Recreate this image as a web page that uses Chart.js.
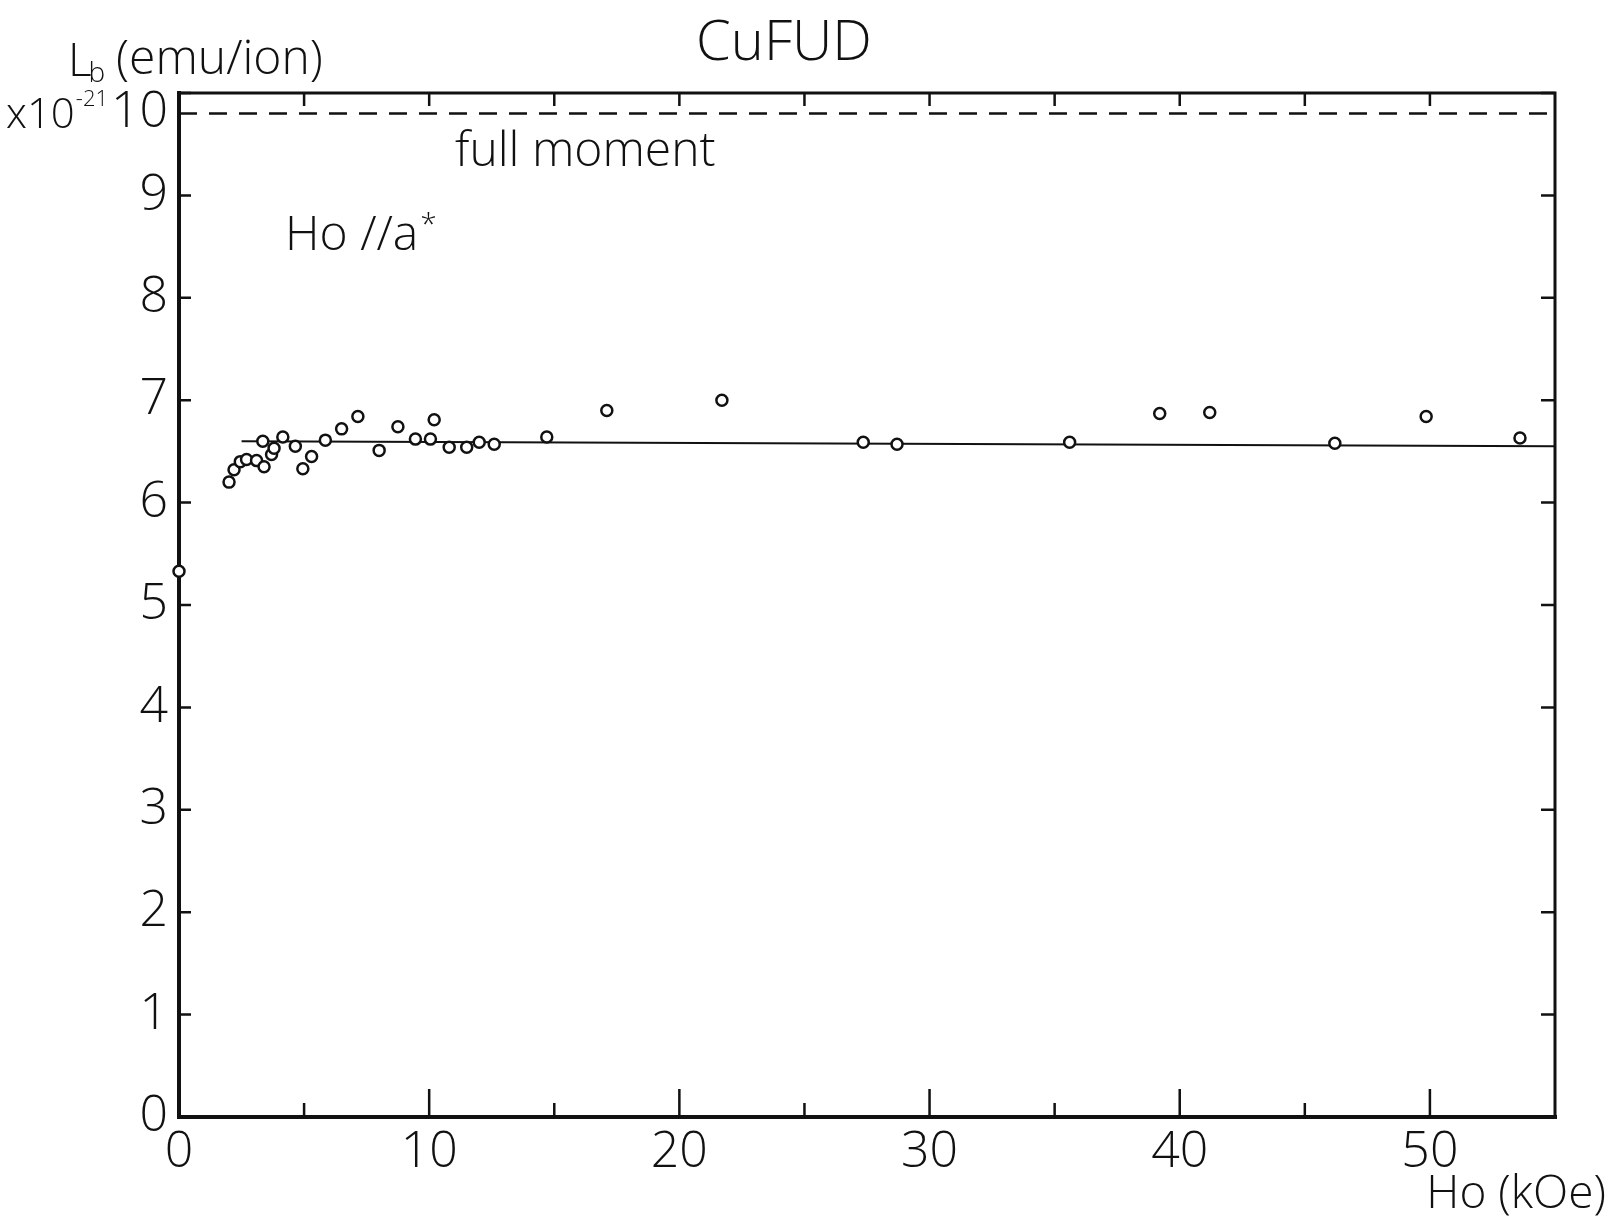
<!DOCTYPE html>
<html>
<head>
<meta charset="utf-8">
<script src="https://cdn.jsdelivr.net/npm/chart.js@4.4.1/dist/chart.umd.min.js"></script>
<style>
  html, body { margin: 0; padding: 0; background: #fff; }
  #wrap { width: 1613px; height: 1222px; }
</style>
</head>
<body>
<div id="wrap"><canvas id="lbChart" width="1613" height="1222"></canvas></div>
<script>
// measured points, Ho (kOe) vs L_b (x10^-21 emu/ion)
const fieldKOe = [0, 2.0, 2.2, 2.45, 2.7, 3.1, 3.35, 3.4, 3.7, 3.8, 4.15, 4.65, 4.95, 5.3, 5.85, 6.5, 7.15,
    8.0, 8.75, 9.45, 10.05, 10.2, 10.8, 11.5, 12.0, 12.6, 14.7, 17.1, 21.7, 27.35, 28.7, 35.6, 39.2, 41.2,
    46.2, 49.85, 53.6];
const momentL = [5.33, 6.20, 6.32, 6.40, 6.42, 6.41, 6.60, 6.35, 6.47, 6.53, 6.64, 6.55, 6.33, 6.45, 6.61, 6.72, 6.84,
    6.51, 6.74, 6.62, 6.62, 6.81, 6.54, 6.54, 6.59, 6.57, 6.64, 6.90, 7.00, 6.59, 6.57, 6.59, 6.87, 6.88,
    6.58, 6.84, 6.63];

// drawn guide line through the data
const fitX = [2.5, 55];
const fitY = [6.60, 6.55];

// full moment level (dashed)
const fullMomentX = [0, 55];
const fullMomentY = [9.8, 9.8];

// axis ticks
const xMajorTicks = [0, 10, 20, 30, 40, 50];
const xMinorTicks = [5, 15, 25, 35, 45];
const xTopTicks = [5, 10, 15, 20, 25, 30, 35, 40, 45, 50];
const yTicks = [0, 1, 2, 3, 4, 5, 6, 7, 8, 9, 10];

const FONT = "'Open Sans', 'Liberation Sans', sans-serif";
const INK = '#111';

const toXY = (xs, ys) => xs.map((x, i) => ({ x: x, y: ys[i] }));

const framePlugin = {
    id: 'frame',
    beforeDatasetsDraw(chart) {
        const ctx = chart.ctx;
        const a = chart.chartArea;
        const xs = chart.scales.x;
        const ys = chart.scales.y;
        ctx.save();
        ctx.strokeStyle = INK;
        ctx.lineCap = 'square';

        // frame
        ctx.lineWidth = 4;
        ctx.beginPath();
        ctx.moveTo(a.left, a.top);
        ctx.lineTo(a.left, a.bottom);
        ctx.lineTo(a.right, a.bottom);
        ctx.stroke();
        ctx.lineWidth = 3;
        ctx.beginPath();
        ctx.moveTo(a.left, a.top);
        ctx.lineTo(a.right, a.top);
        ctx.lineTo(a.right, a.bottom);
        ctx.stroke();

        // inward ticks
        ctx.lineWidth = 2.5;
        ctx.lineCap = 'butt';
        ctx.beginPath();
        yTicks.forEach(v => {
            const y = ys.getPixelForValue(v);
            ctx.moveTo(a.left, y); ctx.lineTo(a.left + 12, y);
            ctx.moveTo(a.right, y); ctx.lineTo(a.right - 14, y);
        });
        xMajorTicks.forEach(v => {
            const x = xs.getPixelForValue(v);
            ctx.moveTo(x, a.bottom); ctx.lineTo(x, a.bottom - 28);
        });
        xMinorTicks.forEach(v => {
            const x = xs.getPixelForValue(v);
            ctx.moveTo(x, a.bottom); ctx.lineTo(x, a.bottom - 14);
        });
        xTopTicks.forEach(v => {
            const x = xs.getPixelForValue(v);
            ctx.moveTo(x, a.top); ctx.lineTo(x, a.top + 13);
        });
        ctx.stroke();
        ctx.restore();
    },
    afterDraw(chart) {
        const ctx = chart.ctx;
        ctx.save();
        ctx.fillStyle = INK;
        ctx.textBaseline = 'alphabetic';

        // title
        ctx.textAlign = 'center';
        ctx.font = '300 56px ' + FONT;
        ctx.fillText('CuFUD', 784, 60);

        // y axis title
        ctx.textAlign = 'left';
        ctx.font = '300 46px ' + FONT;
        ctx.fillText('L', 68, 76);
        const wl = ctx.measureText('L').width;
        ctx.font = '300 28px ' + FONT;
        ctx.fillText('b', 68 + wl - 3, 82);
        ctx.font = '300 48px ' + FONT;
        ctx.fillText('(emu/ion)', 116, 74);

        // multiplier beside the top tick label
        ctx.font = '300 42px ' + FONT;
        ctx.fillText('x10', 6, 128);
        const w = ctx.measureText('x10').width;
        ctx.font = '300 22px ' + FONT;
        ctx.fillText('-21', 6 + w + 1, 106);

        // annotations
        ctx.font = '300 48px ' + FONT;
        ctx.fillText('full moment', 455, 166);
        ctx.fillText('Ho //a', 285, 250);
        const wa = ctx.measureText('Ho //a').width;
        ctx.font = '300 30px ' + FONT;
        ctx.fillText('*', 285 + wa + 2, 234);

        // x axis title
        ctx.textAlign = 'right';
        ctx.font = '300 46px ' + FONT;
        ctx.fillText('Ho (kOe)', 1606, 1208);
        ctx.restore();
    }
};

new Chart(document.getElementById('lbChart').getContext('2d'), {
    type: 'scatter',
    data: {
        datasets: [
            {
                label: 'L_b',
                data: toXY(fieldKOe, momentL),
                pointStyle: 'circle',
                pointRadius: 5.5,
                pointBorderWidth: 2.5,
                pointBorderColor: INK,
                pointBackgroundColor: '#fff',
                showLine: false,
                clip: false
            },
            {
                label: 'guide',
                data: toXY(fitX, fitY),
                showLine: true,
                borderColor: INK,
                borderWidth: 2,
                pointRadius: 0,
                fill: false
            },
            {
                label: 'full moment',
                data: toXY(fullMomentX, fullMomentY),
                showLine: true,
                borderColor: INK,
                borderWidth: 2.5,
                borderDash: [18, 12],
                pointRadius: 0,
                fill: false
            }
        ]
    },
    options: {
        responsive: false,
        animation: false,
        events: [],
        layout: { padding: { top: 93, right: 58, left: 0, bottom: 0 } },
        plugins: {
            legend: { display: false },
            tooltip: { enabled: false }
        },
        scales: {
            x: {
                type: 'linear',
                min: 0,
                max: 55,
                afterFit: s => { s.height = 105; },
                grid: { display: false, drawTicks: false },
                border: { display: false },
                ticks: {
                    stepSize: 10,
                    includeBounds: false,
                    color: INK,
                    padding: 6,
                    font: { family: FONT, size: 50, weight: 300 }
                }
            },
            y: {
                type: 'linear',
                min: 0,
                max: 10,
                afterFit: s => { s.width = 179; },
                grid: { display: false, drawTicks: false },
                border: { display: false },
                ticks: {
                    stepSize: 1,
                    color: INK,
                    padding: 11,
                    // top label sits just under the frame corner, as in the original
                    callback: v => (v === 10 ? ['', '10'] : String(v)),
                    font: { family: FONT, size: 50, weight: 300, lineHeight: 0.8 }
                }
            }
        }
    },
    plugins: [framePlugin]
});
</script>
</body>
</html>
